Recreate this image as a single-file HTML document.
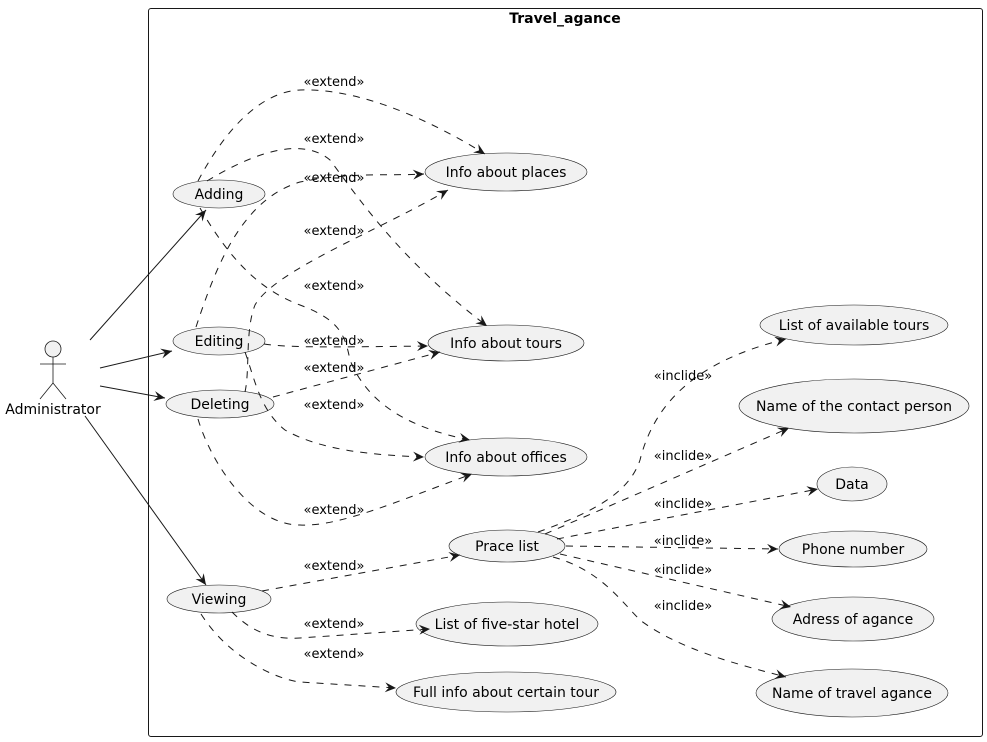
<!DOCTYPE html>
<html><head><meta charset="utf-8"><style>
html,body{margin:0;padding:0;background:#fff;}
svg{display:block;font-family:"DejaVu Sans","Liberation Sans",sans-serif;}
</style></head><body>
<svg width="987" height="742" viewBox="0 0 987 742" xmlns="http://www.w3.org/2000/svg">
<defs>
<marker id="a" viewBox="0 0 12 10" refX="11" refY="5" markerWidth="12" markerHeight="10" markerUnits="userSpaceOnUse" orient="auto">
<path d="M0,0 L11,5 L0,10 L4,5 Z" fill="#181818"/>
</marker>
</defs>
<rect x="148.5" y="8.5" width="834" height="728" rx="2.5" fill="none" stroke="#181818" stroke-width="1"/>
<text x="565" y="23" text-anchor="middle" font-size="14" font-weight="bold" fill="#000">Travel_agance</text>

<g stroke="#181818" fill="none" stroke-width="0.8">
<circle cx="53" cy="349" r="8" fill="#f1f1f1"/>
<line x1="53" y1="357" x2="53" y2="383"/>
<line x1="40" y1="364" x2="66" y2="364"/>
<line x1="53" y1="383" x2="40" y2="399"/>
<line x1="53" y1="383" x2="66" y2="399"/>
</g>
<text x="53" y="414" text-anchor="middle" font-size="14" fill="#000">Administrator</text>

<g fill="#f1f1f1" stroke="#181818" stroke-width="0.6">
<ellipse cx="219" cy="194" rx="46" ry="14"/>
<ellipse cx="219" cy="341" rx="46" ry="14"/>
<ellipse cx="220" cy="404" rx="54" ry="14"/>
<ellipse cx="219" cy="599" rx="52" ry="14"/>
<ellipse cx="506" cy="172" rx="81" ry="19"/>
<ellipse cx="506" cy="343" rx="78" ry="18"/>
<ellipse cx="506" cy="457" rx="81" ry="19"/>
<ellipse cx="507" cy="546" rx="58" ry="16"/>
<ellipse cx="507" cy="624" rx="91" ry="22"/>
<ellipse cx="506" cy="692" rx="110" ry="20"/>
<ellipse cx="854" cy="325" rx="94" ry="20"/>
<ellipse cx="854" cy="406" rx="115" ry="27"/>
<ellipse cx="852" cy="484" rx="35" ry="17"/>
<ellipse cx="853" cy="549" rx="74" ry="18"/>
<ellipse cx="853" cy="619" rx="81" ry="22"/>
<ellipse cx="852" cy="693" rx="96" ry="24"/>
</g>

<g stroke="#181818" fill="none" stroke-width="1" marker-end="url(#a)">
<path d="M90,340 L206,210"/>
<path d="M100,368 L172,351"/>
<path d="M100,386 L165,398"/>
<path d="M85,416 L206,585"/>
</g>

<g stroke="#181818" fill="none" stroke-width="1" stroke-dasharray="7,7" marker-end="url(#a)">
<path d="M198,181 C225,130 260,92 300,90 C360,88 430,120 485,154"/>
<path d="M207,181 C250,155 300,135 330,160 C360,200 400,260 487,326"/>
<path d="M196,327 C215,270 240,200 300,182 C350,172 390,176 424,174"/>
<path d="M245,392 C250,370 245,330 255,305 C275,270 380,230 448,190"/>
<path d="M200,208 C230,260 260,290 300,305 C340,320 345,335 350,360 C370,410 420,430 470,440"/>
<path d="M264,344 C290,348 340,347 428,346"/>
<path d="M273,397 L440,352"/>
<path d="M245,352 C255,380 260,410 285,430 C320,450 370,455 424,457"/>
<path d="M198,419 C210,460 250,525 300,525 C340,527 400,500 472,474"/>
<path d="M262,591 L460,555"/>
<path d="M232,612 C250,630 270,640 300,638 L430,629"/>
<path d="M201,614 C230,660 280,680 300,682 L396,688"/>
<path d="M538,532 C600,510 630,490 640,460 C655,400 700,360 786,339"/>
<path d="M545,534 L789,428"/>
<path d="M557,539 L818,489"/>
<path d="M566,546 L778,549"/>
<path d="M560,554 L791,607"/>
<path d="M553,557 C600,570 620,600 640,620 C680,650 740,665 786,677"/>
</g>

<g font-size="13" fill="#000" text-anchor="middle">
<text x="334" y="86">«extend»</text>
<text x="334" y="143">«extend»</text>
<text x="334" y="182">«extend»</text>
<text x="334" y="235">«extend»</text>
<text x="334" y="290">«extend»</text>
<text x="334" y="345">«extend»</text>
<text x="334" y="372">«extend»</text>
<text x="334" y="409">«extend»</text>
<text x="334" y="514">«extend»</text>
<text x="334" y="570">«extend»</text>
<text x="334" y="628">«extend»</text>
<text x="334" y="658">«extend»</text>
<text x="683" y="380">«inclide»</text>
<text x="683" y="460">«inclide»</text>
<text x="683" y="508">«inclide»</text>
<text x="683" y="545">«inclide»</text>
<text x="683" y="574">«inclide»</text>
<text x="683" y="610">«inclide»</text>
</g>

<g font-size="14" fill="#000" text-anchor="middle">
<text x="219" y="199">Adding</text>
<text x="219" y="346">Editing</text>
<text x="220" y="409">Deleting</text>
<text x="219" y="604">Viewing</text>
<text x="506" y="177">Info about places</text>
<text x="506" y="348">Info about tours</text>
<text x="506" y="462">Info about offices</text>
<text x="507" y="551">Prace list</text>
<text x="507" y="629">List of five-star hotel</text>
<text x="506" y="697">Full info about certain tour</text>
<text x="854" y="330">List of available tours</text>
<text x="854" y="411">Name of the contact person</text>
<text x="852" y="489">Data</text>
<text x="853" y="554">Phone number</text>
<text x="853" y="624">Adress of agance</text>
<text x="852" y="698">Name of travel agance</text>
</g>
</svg>
</body></html>
